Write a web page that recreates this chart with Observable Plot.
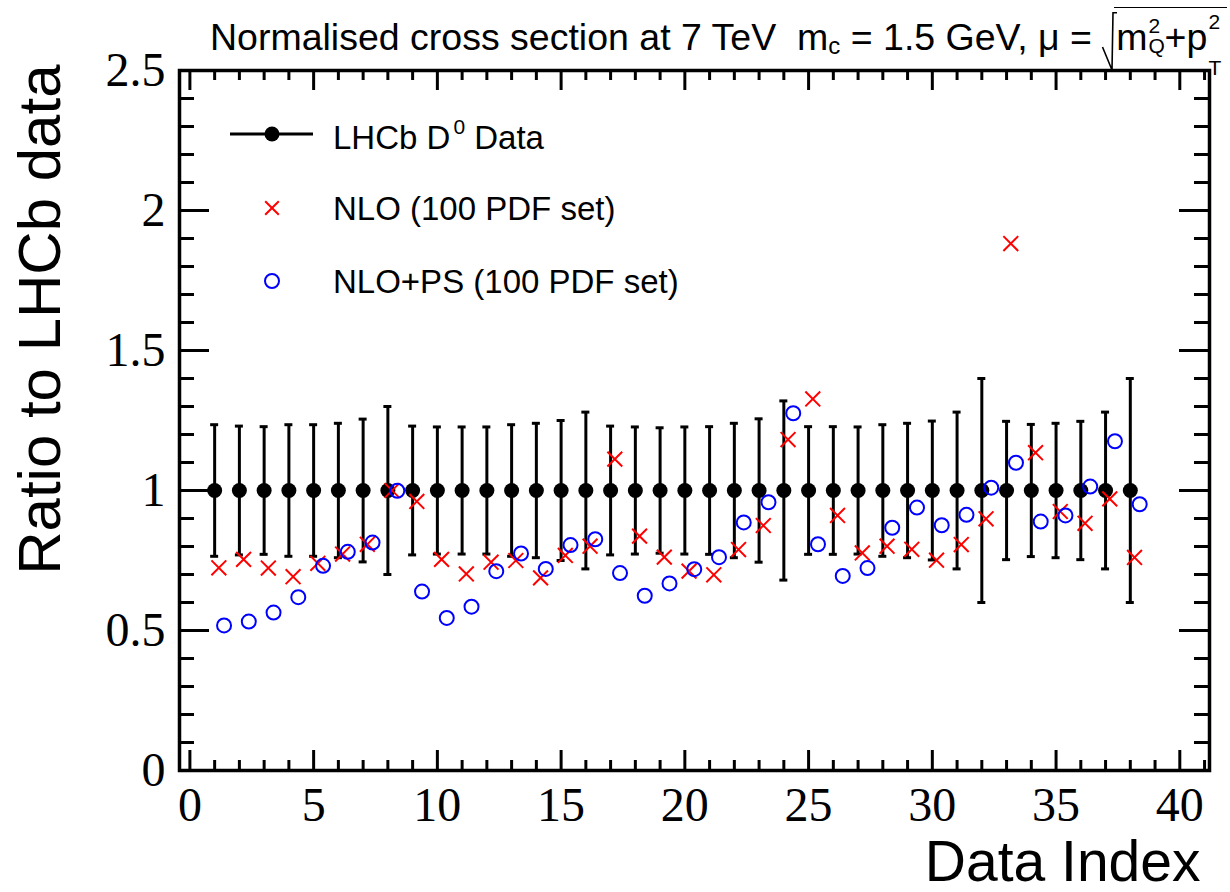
<!DOCTYPE html>
<html>
<head>
<meta charset="utf-8">
<script src="https://cdn.jsdelivr.net/npm/d3@7"></script>
<script src="https://cdn.jsdelivr.net/npm/@observablehq/plot@0.6"></script>
<style>
  html, body { margin: 0; padding: 0; background: #fff; }
  #wrap { position: relative; width: 1230px; height: 892px; overflow: hidden; background: #fff; }
  #title { position: absolute; left: 210px; top: 19px; font-family: "Liberation Sans", Arial, sans-serif;
           font-size: 37.5px; line-height: 37px; white-space: nowrap; color: #000; }
  #title .lo { font-size: 24px; line-height: 14px; position: relative; top: 4px; }
  #title .rad { display: inline-block; position: relative; width: 14px; height: 0; }
  #title .rad svg { position: absolute; left: 0; top: -38px; overflow: visible; }
  #title .radicand { position: relative; }
  #title .radicand::before { content: ""; position: absolute; left: -2px; right: -3px; top: -9px; border-top: 1.6px solid #000; }
  #title .ss { display: inline-block; position: relative; width: 17px; height: 0; }
  #title .ss span { position: absolute; left: 1px; font-size: 21px; line-height: 12px; }
  #legend { position: absolute; left: 0; top: 0; pointer-events: none; }
</style>
</head>
<body>
<div id="wrap">
  <div id="chart"></div>
  <div id="title">Normalised cross section at 7 TeV&nbsp;&nbsp;m<span class="lo">c</span> = 1.5 GeV, μ = <span class="rad"><svg width="14" height="58"><path d="M0.5,35 L10,58 L11,0.8 L15,0.8" fill="none" stroke="#000" stroke-width="1.6"/></svg></span><span class="radicand">m<span class="ss"><span style="top:-30px">2</span><span style="top:-10px">Q</span></span>+p<span class="ss"><span style="top:-34px">2</span><span style="top:12px">T</span></span></span></div>
</div>
<script>
// ---- data ----
const dataIndex = [1,2,3,4,5,6,7,8,9,10,11,12,13,14,15,16,17,18,19,20,21,22,23,24,25,26,27,28,29,30,31,32,33,34,35,36,37,38];
const lhcbRatio = [1,1,1,1,1,1,1,1,1,1,1,1,1,1,1,1,1,1,1,1,1,1,1,1,1,1,1,1,1,1,1,1,1,1,1,1,1,1];
const lhcbError = [0.235,0.23,0.228,0.235,0.235,0.24,0.255,0.30,0.23,0.227,0.227,0.227,0.235,
                   0.24,0.25,0.28,0.23,0.227,0.224,0.227,0.228,0.24,0.256,0.32,0.228,0.228,0.227,
                   0.235,0.24,0.248,0.28,0.40,0.247,0.236,0.24,0.247,0.28,0.40];
const nloRatio = [0.724,0.754,0.723,0.692,0.740,0.773,0.808,1.0,0.961,0.754,0.702,0.744,0.75,
                  0.688,0.768,0.801,1.112,0.837,0.762,0.712,0.699,0.789,0.875,1.182,1.327,0.911,0.777,
                  0.801,0.790,0.751,0.807,0.899,1.882,1.135,0.925,0.883,0.970,0.761];
const nloPsRatio = [0.518,0.532,0.564,0.619,0.731,0.781,0.814,0.999,0.639,0.545,0.585,0.712,0.775,
                    0.720,0.805,0.826,0.705,0.624,0.668,0.719,0.762,0.886,0.958,1.276,0.808,0.695,0.723,
                    0.867,0.939,0.876,0.913,1.010,1.099,0.889,0.911,1.014,1.176,0.951];
const xMajorTicks = [0,5,10,15,20,25,30,35,40];
const xMinorTicks = [1,2,3,4,6,7,8,9,11,12,13,14,16,17,18,19,21,22,23,24,26,27,28,29,31,32,33,34,36,37,38,39,41];
const yMajorTicks = [0,0.5,1,1.5,2,2.5];
const yMinorTicks = [0.1,0.2,0.3,0.4,0.6,0.7,0.8,0.9,1.1,1.2,1.3,1.4,1.6,1.7,1.8,1.9,2.1,2.2,2.3,2.4];
const legendLabels = ["LHCb D", "0", " Data", "NLO (100 PDF set)", "NLO+PS (100 PDF set)"];

const rows = dataIndex.map((i, k) => ({i, v: lhcbRatio[k], e: lhcbError[k], nlo: nloRatio[k], ps: nloPsRatio[k]}));

const xmin = -0.42, xmax = 41.2;
const serif = "Liberation Serif, Times New Roman, serif";
const sans = "Liberation Sans, Arial, sans-serif";
const tw = 3;

const chart = Plot.plot({
  width: 1230, height: 892,
  marginLeft: 179, marginRight: 21, marginTop: 70, marginBottom: 122,
  x: {domain: [xmin, xmax]},
  y: {domain: [0, 2.5]},
  style: {background: "white", overflow: "visible"},
  marks: [
    // inward ticks on all four sides
    Plot.ruleX(xMajorTicks, {x: d => d, y1: 0, y2: 0, insetBottom: 20, strokeWidth: tw}),
    Plot.ruleX(xMinorTicks, {x: d => d, y1: 0, y2: 0, insetBottom: 10, strokeWidth: tw}),
    Plot.ruleX(xMajorTicks, {x: d => d, y1: 2.5, y2: 2.5, insetBottom: -20, strokeWidth: tw}),
    Plot.ruleX(xMinorTicks, {x: d => d, y1: 2.5, y2: 2.5, insetBottom: -10, strokeWidth: tw}),
    Plot.ruleY(yMajorTicks, {y: d => d, x1: xmin, x2: xmin, insetRight: -30, strokeWidth: tw}),
    Plot.ruleY(yMinorTicks, {y: d => d, x1: xmin, x2: xmin, insetRight: -15, strokeWidth: tw}),
    Plot.ruleY(yMajorTicks, {y: d => d, x1: xmax, x2: xmax, insetLeft: -30, strokeWidth: tw}),
    Plot.ruleY(yMinorTicks, {y: d => d, x1: xmax, x2: xmax, insetLeft: -15, strokeWidth: tw}),
    Plot.frame({stroke: "black", strokeWidth: 3.5}),
    Plot.axisX(xMajorTicks, {tickSize: 0, tickPadding: 16, fontSize: 48, fontFamily: serif, tickFormat: d => String(d), label: null}),
    Plot.axisY(yMajorTicks, {tickSize: 0, tickPadding: 14, fontSize: 48, fontFamily: serif, tickFormat: d => String(d), label: null}),
    // axis titles
    Plot.text(["Ratio to LHCb data"], {text: d => d, frameAnchor: "top-left", rotate: -90, textAnchor: "end", lineAnchor: "bottom",
      dx: -120, dy: -6, fontSize: 60, fontFamily: sans, fill: "black"}),
    Plot.text(["Data Index"], {text: d => d, frameAnchor: "bottom-right", textAnchor: "end", lineAnchor: "bottom",
      dx: -9, dy: 110, fontSize: 57, fontFamily: sans, fill: "black"}),
    // LHCb data with error bars
    Plot.ruleX(rows, {x: "i", y1: d => d.v - d.e, y2: d => d.v + d.e, stroke: "black", strokeWidth: 3}),
    Plot.ruleY(rows, {y: d => d.v + d.e, x1: "i", x2: "i", insetLeft: -4, insetRight: -4, stroke: "black", strokeWidth: 3}),
    Plot.ruleY(rows, {y: d => d.v - d.e, x1: "i", x2: "i", insetLeft: -4, insetRight: -4, stroke: "black", strokeWidth: 3}),
    Plot.dot(rows, {x: "i", y: "v", r: 7.5, fill: "black", stroke: "none"}),
    // NLO
    Plot.dot(rows, {x: d => d.i + 0.17, y: "nlo", symbol: "times", r: 6.8, stroke: "#ff0000", strokeWidth: 2}),
    // NLO+PS
    Plot.dot(rows, {x: d => d.i + 0.38, y: "ps", symbol: "circle", r: 7, stroke: "#0000ff", fill: "none", strokeWidth: 2})
  ]
});
document.getElementById("chart").appendChild(chart);

// ---- legend (inside the frame, top-left) ----
const lg = d3.select("#wrap").append("svg").attr("id", "legend").attr("width", 1230).attr("height", 892);
const symX = 272, txtX = 333, rowsY = [134, 208, 281];
lg.append("line").attr("x1", 230).attr("x2", 313).attr("y1", rowsY[0]).attr("y2", rowsY[0]).attr("stroke", "black").attr("stroke-width", 3);
lg.append("circle").attr("cx", symX).attr("cy", rowsY[0]).attr("r", 7.5).attr("fill", "black");
const t0 = lg.append("text").attr("x", txtX).attr("y", rowsY[0] + 15).attr("font-family", sans).attr("font-size", 33);
t0.append("tspan").text(legendLabels[0]);
t0.append("tspan").attr("font-size", 21).attr("dy", -15).attr("dx", 3).text(legendLabels[1]);
t0.append("tspan").attr("dy", 15).text(legendLabels[2]);
const s = 6.8;
lg.append("path").attr("d", `M${symX - s},${rowsY[1] - s}L${symX + s},${rowsY[1] + s}M${symX - s},${rowsY[1] + s}L${symX + s},${rowsY[1] - s}`)
  .attr("stroke", "#ff0000").attr("stroke-width", 2);
lg.append("text").attr("x", txtX).attr("y", rowsY[1] + 12).attr("font-family", sans).attr("font-size", 33).text(legendLabels[3]);
lg.append("circle").attr("cx", symX).attr("cy", rowsY[2]).attr("r", 7).attr("fill", "none").attr("stroke", "#0000ff").attr("stroke-width", 2);
lg.append("text").attr("x", txtX).attr("y", rowsY[2] + 12).attr("font-family", sans).attr("font-size", 33).text(legendLabels[4]);
</script>
</body>
</html>
